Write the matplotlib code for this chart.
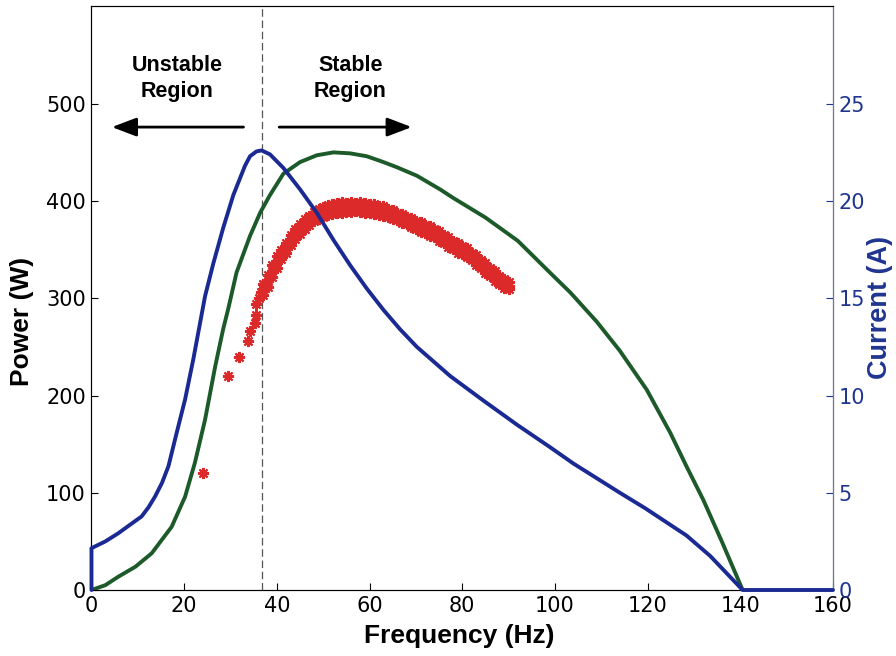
import numpy as np
import matplotlib
matplotlib.use('Agg')
import matplotlib.pyplot as plt

plt.rcParams['font.family'] = ['Liberation Sans', 'DejaVu Sans']

# current curve (A), right axis
cur_f = [0, 0, 3.0, 5.8, 8.0, 10.8, 12.3, 13.7, 15.2, 16.6, 18.4, 20.2, 22.0, 24.5, 26.3, 28.4,
         30.6, 33.1, 34.2, 35.6, 36.7, 38.5, 41.4, 45.0, 48.6, 52.2, 55.8, 59.4, 63.0, 66.6,
         70.2, 73.8, 77.4, 84.5, 91.8, 98.9, 104.0, 109.0, 114.0, 119.5, 124.9, 128.4, 133.5,
         140.5, 160]
cur_a = [0, 2.15, 2.5, 2.92, 3.3, 3.78, 4.25, 4.8, 5.5, 6.36, 8.1, 9.8, 11.9, 15.1, 16.8, 18.6,
         20.3, 21.8, 22.3, 22.55, 22.6, 22.4, 21.7, 20.6, 19.4, 18.0, 16.7, 15.5, 14.4, 13.4,
         12.5, 11.75, 11.0, 9.75, 8.5, 7.35, 6.5, 5.75, 5.0, 4.2, 3.35, 2.8, 1.75,
         0, 0]

# simulated power (W), left axis
pow_f = [0, 3.0, 5.8, 9.5, 13.0, 17.3, 20.2, 22.3, 24.5, 26.7, 28.4, 29.5, 31.3, 34.2, 36.4,
         38.5, 41.4, 45.0, 48.6, 52.2, 55.8, 59.4, 63.0, 65.9, 70.2, 75.2, 78.1, 85.0, 92.0,
         99.0, 103.3, 109.0, 114.0, 119.8, 124.9, 128.4, 132.0, 136.0, 140.5]
pow_w = [0, 5, 13.7, 24, 37.8, 65, 96, 130.6, 175, 230, 268, 289, 326.5, 364, 388,
         406, 428, 440, 447, 450, 449, 446, 440, 434.7, 426, 412, 403, 383, 359,
         326, 306, 276, 246, 206, 161.5, 127, 92.8, 50, 0]

# measured power (W): sparse start-up points
meas_f = [24.1, 29.5, 31.8, 33.8, 34.3, 35.3, 35.4, 35.6, 36.2, 36.6]
meas_w = [120, 220, 240, 256, 266, 275, 283, 294, 300, 306]

# measured power (W): dense band, one frequency per Hz, upper/middle/lower readings
band_f = [37, 38, 39, 40, 41, 42, 43, 44, 45, 46, 47, 48, 49, 50, 51, 52, 53, 54, 55, 56,
          57, 58, 59, 60, 61, 62, 63, 64, 65, 66, 67, 68, 69, 70, 71, 72, 73, 74, 75, 76,
          77, 78, 79, 80, 81, 82, 83, 84, 85, 86, 87, 88, 89, 90]
band_mid = [309, 318, 328, 337, 345, 352, 360, 366, 371, 376, 380, 384, 387, 389, 391, 392,
            393, 393, 394, 394, 394, 394, 393, 393, 392, 391, 390, 388, 386, 384, 382, 380,
            378, 375, 373, 371, 369, 367, 364, 361, 358, 355, 352, 350, 347, 343, 339, 335,
            331, 327, 323, 319, 315, 313]
band_hi = [315, 324, 334, 343, 350, 357, 365, 371, 376, 381, 385, 389, 392, 394, 396, 397,
           398, 399, 398, 399, 398, 399, 398, 397, 397, 395, 395, 392, 391, 388, 387, 384,
           383, 379, 378, 375, 374, 371, 369, 365, 363, 359, 357, 354, 352, 347, 344, 339,
           336, 331, 328, 323, 320, 317]
band_lo = [303, 312, 322, 331, 340, 347, 355, 361, 366, 371, 375, 379, 382, 384, 386, 387,
           388, 388, 389, 389, 390, 389, 388, 388, 387, 386, 385, 384, 381, 380, 377, 376,
           373, 371, 368, 367, 364, 363, 359, 357, 353, 351, 347, 346, 342, 339, 334, 331,
           326, 323, 318, 315, 311, 309]

boundary_f = 36.8

blue = '#1b2a93'
green = '#1d5a2a'
red = '#dc2a2a'
axblue = '#1f3590'

fig = plt.figure(figsize=(8.96, 6.56), dpi=100)
ax = fig.add_axes([0.1021, 0.1006, 0.8276, 0.8895])

ax.axvline(boundary_f, color='#555555', lw=0.9, dashes=(6, 3), zorder=1)
star = dict(ls='none', marker=(8, 2, 0), ms=8, mew=1.5, color=red, zorder=2)
ax.plot(meas_f, meas_w, **star)
for vals in [band_lo, band_mid, band_hi]:
    ax.plot(band_f, vals, **star)
ax.plot(pow_f, pow_w, color=green, lw=2.8, zorder=3, solid_capstyle='round')

tickfont = dict(family='DejaVu Sans', size=15)
ax.set_xlim(0, 160)
ax.set_ylim(0, 600)
ax.set_xticks(np.arange(0, 161, 20))
ax.set_yticks(np.arange(0, 501, 100))
ax.tick_params(direction='in', length=5, top=False, right=False, pad=4)
for lab in ax.get_xticklabels() + ax.get_yticklabels():
    lab.set_fontproperties(tickfont)
ax.set_xlabel('Frequency (Hz)', fontsize=19, fontweight='bold', va='center')
ax.xaxis.set_label_coords(0.496, -0.079)
ax.set_ylabel('Power (W)', fontsize=19, fontweight='bold', va='center')
ax.yaxis.set_label_coords(-0.094, 0.46)
for s in ['left', 'bottom', 'top']:
    ax.spines[s].set_color('#333333')

# region labels and arrows
ax.text(18.4, 526, 'Unstable\nRegion', ha='center', va='center', fontsize=15.5,
        fontweight='bold', linespacing=1.3)
ax.text(55.9, 526, 'Stable\nRegion', ha='center', va='center', fontsize=15.5,
        fontweight='bold', linespacing=1.3)
arr = dict(arrowstyle='-|>,head_length=1.0,head_width=0.38', color='black', lw=2,
           mutation_scale=15, shrinkA=0, shrinkB=0)
ax.annotate('', xy=(4.4, 476), xytext=(32.8, 476), arrowprops=arr)
ax.annotate('', xy=(69.1, 476), xytext=(40.5, 476), arrowprops=arr)

ax2 = ax.twinx()
ax2.plot(cur_f, cur_a, color=blue, lw=2.8, clip_on=False, zorder=4, solid_capstyle='round')
ax2.set_ylim(0, 30)
ax2.set_yticks(np.arange(0, 26, 5))
ax2.tick_params(direction='in', length=5, colors=axblue, pad=4)
for lab in ax2.get_yticklabels():
    lab.set_fontproperties(tickfont)
ax2.spines['right'].set_color('#5577cc')
ax2.set_ylabel('Current (A)', fontsize=19.5, fontweight='bold', color=axblue, va='center')
ax2.yaxis.set_label_coords(1.063, 0.485)

fig.savefig('out.png', dpi=100)
